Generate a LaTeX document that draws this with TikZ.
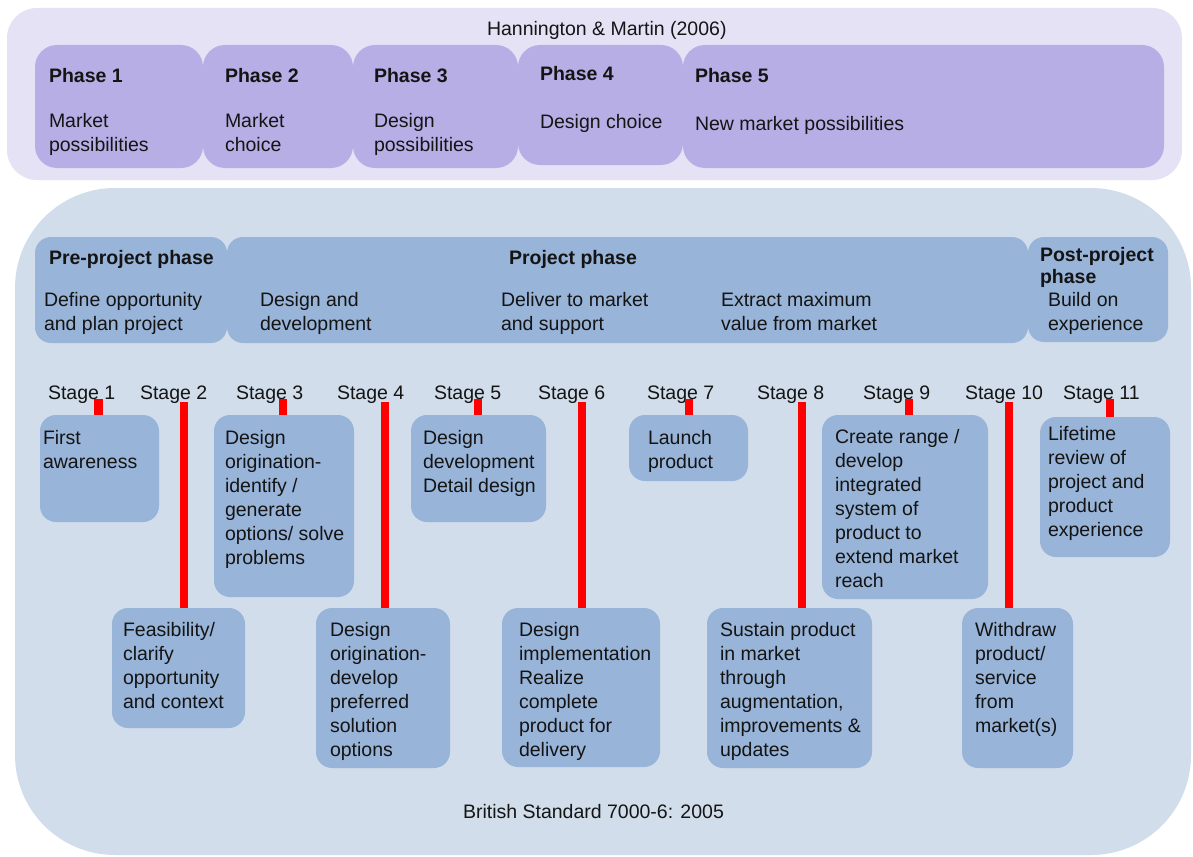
\documentclass[tikz,border=0pt]{standalone}
\usepackage{fontspec}
\setmainfont{Liberation Sans}
\definecolor{lavout}{HTML}{E6E2F6}
\definecolor{lavbox}{HTML}{B8AEE6}
\definecolor{blueout}{HTML}{D1DDEB}
\definecolor{bluebox}{HTML}{98B4D8}
\definecolor{barred}{HTML}{FF0000}
\definecolor{ink}{HTML}{141414}
\begin{document}
\begin{tikzpicture}[x=1pt,y=-1pt,
  panel/.style={anchor=north west, inner sep=0pt, outer sep=0pt, draw=none},
  outerlav/.style={panel, fill=lavout, rounded corners=30pt},
  phasebox/.style={panel, fill=lavbox, rounded corners=22pt},
  outerblue/.style={panel, fill=blueout, rounded corners=100pt},
  hdrbox/.style={panel, fill=bluebox, rounded corners=16pt},
  stagebox/.style={panel, fill=bluebox, rounded corners=16pt},
  txt/.style={anchor=north west, yshift=14.6pt, inner sep=0pt, outer sep=0pt, align=left, text=ink,
    font=\fontsize{19.5}{24}\selectfont, execute at begin node={\strut}},
  btxt/.style={txt, font=\fontsize{19.5}{24}\selectfont\bfseries},
  bar/.style={draw=barred, line width=8.5pt}
]
\useasboundingbox (0,0) rectangle (1193,856);
\fill[white] (0,0) rectangle (1193,856);

% ---------- Hannington & Martin ----------
\node[outerlav, minimum width=1175pt, minimum height=172pt] (hmout) at (7,8) {};
\node[phasebox, minimum width=168pt, minimum height=123pt] (p1) at (35,45) {};
\node[phasebox, minimum width=150pt, minimum height=123pt] (p2) at (203,45) {};
\node[phasebox, minimum width=165pt, minimum height=123pt] (p3) at (353,45) {};
\node[phasebox, minimum width=165pt, minimum height=120pt] (p4) at (518,45) {};
\node[phasebox, minimum width=481pt, minimum height=123pt] (p5) at (683,45) {};

\node[txt] (hmtitle) at (487,33) {Hannington \& Martin (2006)};
\node[btxt] (p1t) at (49,80) {Phase 1};
\node[txt]  (p1b) at (49,128) {Market\\possibilities};
\node[btxt] (p2t) at (225,80) {Phase 2};
\node[txt]  (p2b) at (225,128) {Market\\choice};
\node[btxt] (p3t) at (374,80) {Phase 3};
\node[txt]  (p3b) at (374,128) {Design\\possibilities};
\node[btxt] (p4t) at (540,78) {Phase 4};
\node[txt]  (p4b) at (540,126) {Design choice};
\node[btxt] (p5t) at (695,80) {Phase 5};
\node[txt]  (p5b) at (695,128) {New market possibilities};

% ---------- British Standard ----------
\node[outerblue, minimum width=1176pt, minimum height=667pt] (bsout) at (15,188) {};
\node[hdrbox, minimum width=192pt, minimum height=106pt] (hpre) at (35,237) {};
\node[hdrbox, minimum width=801pt, minimum height=106pt] (hpro) at (227,237) {};
\node[hdrbox, minimum width=140pt, minimum height=105pt] (hpost) at (1028,237) {};

\node[btxt] (hpret) at (49,262) {Pre-project phase};
\node[txt]  (hpreb) at (44,307) {Define opportunity\\and plan project};
\node[btxt, anchor=north] (hprot) at (573,262) {Project phase};
\node[txt]  (hpro1) at (260,307) {Design and\\development};
\node[txt]  (hpro2) at (501,307) {Deliver to market\\and support};
\node[txt]  (hpro3) at (721,307) {Extract maximum\\value from market};
\node[btxt, font=\fontsize{19.5}{22}\selectfont\bfseries] (hpostt) at (1040,262) {Post-project\\phase};
\node[txt]  (hpostb) at (1048,307) {Build on\\experience};

% stage labels
\node[txt] (l1)  at (48,397)  {Stage 1};
\node[txt] (l2)  at (140,397) {Stage 2};
\node[txt] (l3)  at (236,397) {Stage 3};
\node[txt] (l4)  at (337,397) {Stage 4};
\node[txt] (l5)  at (434,397) {Stage 5};
\node[txt] (l6)  at (538,397) {Stage 6};
\node[txt] (l7)  at (647,397) {Stage 7};
\node[txt] (l8)  at (757,397) {Stage 8};
\node[txt] (l9)  at (863,397) {Stage 9};
\node[txt] (l10) at (965,397) {Stage 10};
\node[txt] (l11) at (1063,397) {Stage 11};

% stage boxes
\node[stagebox, minimum width=119pt, minimum height=107pt] (b1)  at (40,415) {};
\node[stagebox, minimum width=140pt, minimum height=182pt] (b3)  at (214,415) {};
\node[stagebox, minimum width=135pt, minimum height=107pt] (b5)  at (411,415) {};
\node[stagebox, minimum width=119pt, minimum height=66pt]  (b7)  at (629,415) {};
\node[stagebox, minimum width=166pt, minimum height=184pt] (b9)  at (822,415) {};
\node[stagebox, minimum width=130pt, minimum height=140pt] (b11) at (1040,417) {};
\node[stagebox, minimum width=133pt, minimum height=120pt] (b2)  at (112,608) {};
\node[stagebox, minimum width=134pt, minimum height=160pt] (b4)  at (316,608) {};
\node[stagebox, minimum width=158pt, minimum height=159pt] (b6)  at (502,608) {};
\node[stagebox, minimum width=165pt, minimum height=160pt] (b8)  at (707,608) {};
\node[stagebox, minimum width=111pt, minimum height=160pt] (b10) at (962,608) {};

% red bars
\coordinate (c1)  at (98.5,399);
\coordinate (c2)  at (184,402);
\coordinate (c3)  at (283,399);
\coordinate (c4)  at (385,402);
\coordinate (c5)  at (478,399);
\coordinate (c6)  at (582,402);
\coordinate (c7)  at (689,399);
\coordinate (c8)  at (802,402);
\coordinate (c9)  at (909,399);
\coordinate (c10) at (1009,402);
\coordinate (c11) at (1110,399);
\draw[bar] (c1)  -- (c1 |- b1.north);
\draw[bar] (c2)  -- (c2 |- b2.north);
\draw[bar] (c3)  -- (c3 |- b3.north);
\draw[bar] (c4)  -- (c4 |- b4.north);
\draw[bar] (c5)  -- (c5 |- b5.north);
\draw[bar] (c6)  -- (c6 |- b6.north);
\draw[bar] (c7)  -- (c7 |- b7.north);
\draw[bar] (c8)  -- (c8 |- b8.north);
\draw[bar] (c9)  -- (c9 |- b9.north);
\draw[bar] (c10) -- (c10 |- b10.north);
\draw[bar] (c11) -- (c11 |- b11.north);

% stage texts
\node[txt] (t1)  at (43,445)   {First\\awareness};
\node[txt] (t3)  at (225,445)  {Design\\origination-\\identify /\\generate\\options/ solve\\problems};
\node[txt] (t5)  at (423,445)  {Design\\development\\Detail design};
\node[txt] (t7)  at (648,445)  {Launch\\product};
\node[txt] (t9)  at (835,444)  {Create range /\\develop\\integrated\\system of\\product to\\extend market\\reach};
\node[txt] (t11) at (1048,441) {Lifetime\\review of\\project and\\product\\experience};
\node[txt] (t2)  at (123,637)  {Feasibility/\\clarify\\opportunity\\and context};
\node[txt] (t4)  at (330,637)  {Design\\origination-\\develop\\preferred\\solution\\options};
\node[txt] (t6)  at (519,637)  {Design\\implementation\\Realize\\complete\\product for\\delivery};
\node[txt] (t8)  at (720,637)  {Sustain product\\in market\\through\\augmentation,\\improvements \&\\updates};
\node[txt] (t10) at (975,637)  {Withdraw\\product/\\service\\from\\market(s)};

\node[txt] (bstitle) at (463,816) {British Standard 7000-6: 2005};
\end{tikzpicture}
\end{document}
